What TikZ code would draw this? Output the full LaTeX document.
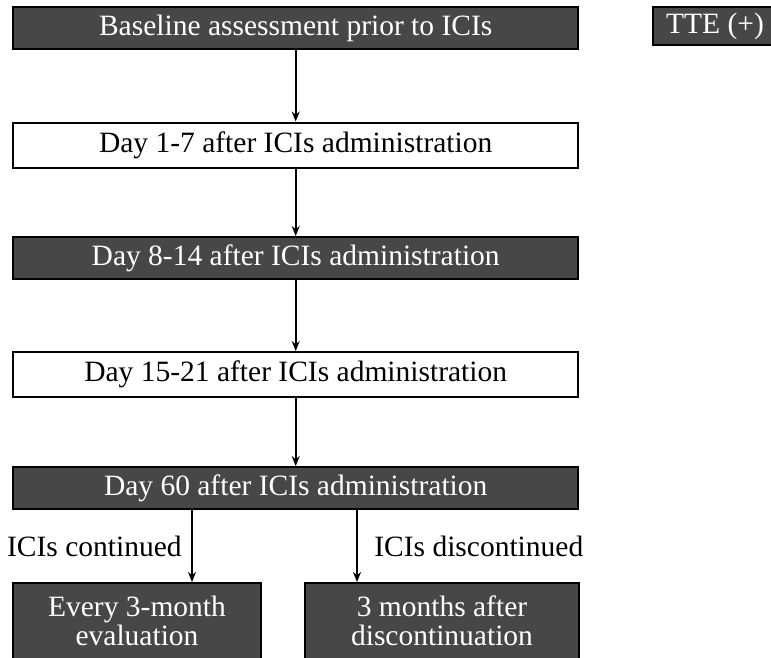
\documentclass[tikz,border=0pt]{standalone}
\usepackage{fontspec}
\setmainfont{Liberation Serif}
\usetikzlibrary{arrows.meta}
\definecolor{boxgray}{HTML}{474747}

\begin{document}
\begin{tikzpicture}[x=1pt,y=-1pt,
	darkbox/.style={draw=black,line width=2pt,fill=boxgray,text=white,minimum width=565pt,minimum height=42pt,inner sep=0pt,font=\fontsize{29.5}{29}\selectfont},
	whitebox/.style={darkbox,fill=white,text=black,minimum height=45pt},
	flow/.style={-{Stealth[length=10pt,width=8pt]},line width=2pt}]
	\useasboundingbox (0,0) rectangle (771,657);
	\clip (0,0) rectangle (771,657);
	
	\node[darkbox] (base) at (295.7,28.3) {Baseline assessment prior to ICIs};
	\node[whitebox] (day1) at (295.7,145) {Day 1-7 after ICIs administration};
	\node[darkbox] (day8) at (295.7,258) {Day 8-14 after ICIs administration};
	\node[whitebox] (day15) at (295.7,374.5) {Day 15-21 after ICIs administration};
	\node[darkbox] (day60) at (295.7,488) {Day 60 after ICIs administration};
	\node[darkbox,minimum width=248pt,minimum height=76pt,anchor=north,align=center] (every) at (137,582) {Every 3-month\\evaluation};
	\node[darkbox,minimum width=274pt,minimum height=76pt,anchor=north,align=center] (after) at (442,582) {3 months after\\discontinuation};
	\node[darkbox,minimum width=124pt,minimum height=38pt,anchor=west] (tte) at (652,26) {TTE (+)};
	
	\draw[flow] (base) -- (day1);
	\draw[flow] (day1) -- (day8);
	\draw[flow] (day8) -- (day15);
	\draw[flow] (day15) -- (day60);
	\draw[flow] (day60.south -| 192,0) -- (every.north -| 192,0) node[midway,left=6pt,font=\fontsize{29.5}{29}\selectfont] (cont) {ICIs continued};
	\draw[flow] (day60.south -| 357,0) -- (after.north -| 357,0) node[midway,right=13pt,font=\fontsize{29.5}{29}\selectfont] (disc) {ICIs discontinued};
\end{tikzpicture}
\end{document}
